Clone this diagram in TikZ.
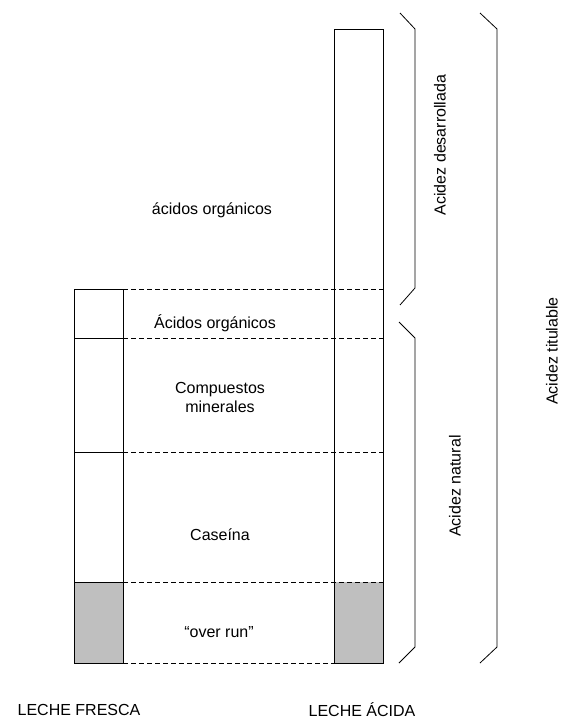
\documentclass[tikz,border=0pt]{standalone}
\usepackage{fontspec}
\setmainfont{Liberation Sans}
\usetikzlibrary{calc}

\begin{document}
\begin{tikzpicture}[x=1pt,y=-1pt,line width=0.8pt,
	label text/.style={font=\fontsize{16}{19}\selectfont,inner sep=0pt,align=center},
	side text/.style={label text,rotate=90},
	level line/.style={dash pattern=on 5pt off 3pt},
	overrun fill/.style={fill=black!25}]
	
	\useasboundingbox (0,0) rectangle (562,720);
	
	% levels of both columns
	\foreach \y/\n in {289/1,338/2,452/3,582/4,663/5} {
		\coordinate (fresca\n) at (123,\y);
		\coordinate (acida\n) at (383,\y);
	}
	\coordinate (frescatop) at (74,289);
	\coordinate (acidatop) at (334,29);
	
	% shaded part ("over run")
	\fill[overrun fill] (74,582) rectangle (fresca5);
	\fill[overrun fill] (334,582) rectangle (acida5);
	
	% columns
	\draw (frescatop) rectangle (fresca5);
	\draw (acidatop) rectangle (acida5);
	\foreach \n in {2,3,4}
		\draw (74,0 |- fresca\n) -- (fresca\n);
	\foreach \n in {1,2,3,4,5}
		\draw[level line] (fresca\n) -- (acida\n);
	
	% brackets
	\draw (400,13) -- (415,29) -- (415,288) -- (400,305);
	\draw (399,322) -- (415,338) -- (415,647) -- (399,663);
	\draw (480,13) -- (497,29) -- (497,647) -- (480,663);
	
	\node[label text] (ac1) at (212,210) {ácidos orgánicos};
	\node[label text] (ac2) at (215,323) {Ácidos orgánicos};
	\node[label text] (min) at (220,397) {Compuestos\\minerales};
	\node[label text] (cas) at (220,535) {Caseína};
	\node[label text] (ovr) at (219,632) {“over run”};
	
	\node[side text] (des) at (440,145) {Acidez desarrollada};
	\node[side text] (nat) at (455,486) {Acidez natural};
	\node[side text] (tit) at (552,351) {Acidez titulable};
	
	\node[label text] (fresca) at (79,710) {LECHE FRESCA};
	\node[label text] (acida) at (362,710) {LECHE ÁCIDA};
\end{tikzpicture}
\end{document}
